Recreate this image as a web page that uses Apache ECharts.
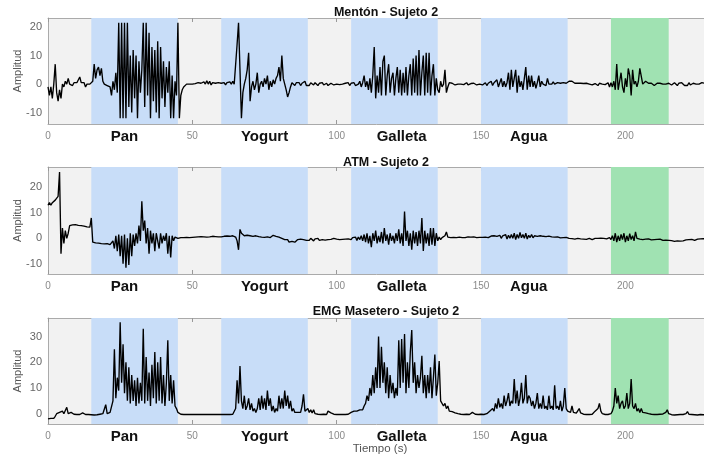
<!DOCTYPE html>
<html><head><meta charset="utf-8">
<script src="https://cdn.jsdelivr.net/npm/echarts@6/dist/echarts.min.js"></script>
<style>html,body{margin:0;padding:0;background:#fff}#c{width:704px;height:456px}</style>
</head><body><div id="c"></div>
<script>
// sampling step of the signals (s)
const stepSeconds = 0.5;

const menton = [
-1,-4,-1,-5,0,7,-3,-6,-2,-5,0,-1,1,0,2,0,0.5,-0.5,0.5,0,
0.5,1,2.5,0.5,0,0.5,-1,0,0.3,0,0.5,1,7,2,5,6,3,5.5,1,0,
0.5,-0.5,0,-1,-4,1,-2,4,-3,21.5,-12,21.5,-12,21.5,-12,21.5,-8,10,-10,12,
-5,10,-12,8,-3,5,21.5,-8,21.5,-4,18,-12,13,-6,12,-10,15,-12,13,-5,
8,-8,6,-3,8,-12,3,-12,1,-4,21.5,-12,-4,-2,-1,-0.5,0,-0.3,0,0.3,
0,-0.3,0.2,0,0.5,-0.2,0.3,0,0.8,0,1.2,0,1,-0.3,0.5,0,0.3,-0.2,0.5,0,
0.3,0,0.5,-0.3,0.5,0,0.8,0,1,0,0,14,21.5,5,-12,-3,0,2,5,11,
-6,-1,1,-2,0,4,-3,0,1,-1,2,0,3,-2,1,-1,1.5,0,2,3,
6,1,10,2,0,-2,-4.5,-3,-1,0.5,1,-0.5,0.5,0,0.5,-0.5,0.3,0,1,-0.5,
0,-0.5,0.5,0,-0.3,0.5,0,-0.5,0.3,0,0.5,-0.3,0,0.3,-0.5,0,0.3,0,-0.3,0.2,
0,0.3,-0.2,0.5,0,-0.3,0.3,0,0.5,-0.5,0.3,0,0.5,-0.5,0.2,0,1,-1,0.5,3,
-1,1,-2,2,-3,3,13,-5,3,-3,6,-4,8,10,-4,3,7,-3,2,4,
-4,2,6,-3,5,-4,4,-3,6,-4,3,7,-4,9,-3,10,-4,12,-4,4,
10,-4,11,-3,11,-4,3,7,-4,2,-2,-3,1,-1,0,5,-3,-1,0.5,0,
0.3,0,-0.3,0.2,0,-0.5,0,0.3,-0.2,0,0.5,-0.3,0,0.2,-0.2,0.3,0,-0.3,0.2,0,
0.5,-0.3,0,0.5,-0.5,0.3,0,1,-0.5,0.5,0,1.5,-1,0.5,2,-1,1,-1,0.5,4,
-2,5,-1,2,5,-3,3,-1,1,-2,2,6,-2,3,-1,3,-1,1,-1.5,0.5,
3,-1,1,0,0.5,-0.5,2,0,0.5,0,0.8,0,0.3,0.5,0,0.3,0,0.5,0,0.3,
0.8,1,0.8,1,0.5,0.3,0.5,0.3,0.2,0.3,0,0.2,0,0.3,-0.2,0,0.3,-0.3,0,0.2,
0,-0.5,0.3,-0.3,0,0.2,-0.2,0,0.5,-1,0.5,-1,1,-2,7,-2,1,4,-1,-3,
2,-1,5.5,3,-4,5,0,1,-1,1,5.5,5,0,0.5,1,0.5,0.3,0.5,0.3,0,
-0.5,0,0.3,0.5,0.3,-0.3,0,-0.5,0,0.5,0.3,0,-0.3,0,0.5,0,-0.5,0.3,0,0.5,
0,-0.5,-1,-0.5,0.5,-0.3,0,0.3,-0.3,0,0.5,0,-0.3,0.5,0,0.3,-0.2,0,0.3,0,
0];

const atm = [
13,14,13,14,14.5,15,15.5,16.5,26,-6,4,-2,3,0,2,5,5.5,5.3,5.2,5.4,
5.3,5.1,5.2,5,4.9,4.8,4.7,4.5,4.5,4.4,8,-1.5,-2,-1.8,-2,-1.9,-2,-2.1,-2,-2.2,
-2,-2.1,-1.5,-2.5,-3,-1,-4,1,-5,1.5,-7,1,-10,1.5,-11.5,0,-10.5,2,-7,1.5,
-3,2,-2,5,-1,14.5,3,7,-2,4,-6,3,-2,2,-5,2,-1,-4,2,-2,
1,-1,2,-6,1,-7.5,1,-1,0.5,1,0,0.5,0.3,0.5,0.3,0.5,0.4,0.5,0.3,0.5,
0.4,0.6,0.5,0.4,0.6,0.5,0.7,0.5,0.6,0.8,0.5,0.7,0.6,0.5,0.8,0.6,0.7,0.5,0.6,0.8,
0.6,0.7,0.8,0.6,0.9,0.7,0.8,0.6,1,0.7,0.5,-1,-4.5,3.5,2,1.5,1,0.8,1.2,0.5,
1,0.5,0.8,0.4,1,0.5,0.7,1,0.5,0.8,0.4,1,0.6,0.8,0.3,0.7,1.2,0.5,0.8,1.5,
0.5,1,0,0.5,-0.5,-1,-0.5,-1.5,-0.8,-1.2,-0.5,-1.5,-1,-0.5,-1.2,-0.3,-1,-0.5,-0.2,-0.8,
-0.3,-0.8,0,-0.5,-1,-0.2,-0.6,0,-0.8,-0.3,-0.5,0,-0.7,-0.2,-0.5,0.2,-0.4,-0.8,0,-0.5,
-0.3,0,-0.5,0.2,-0.4,0,-0.3,0.3,-0.2,0.5,-0.5,0.3,-0.3,0.5,-0.8,0.5,-0.5,1,-1,1.5,
-1.5,2,-2,1,-3.5,2,-1,3,-2,1,-1.5,2.5,-2,4,-1,1.5,-2.5,2,-1,1,
-2,2,-1,3.5,-2,2,-3,10.5,-1,3,-3,2,-4.5,3,-2,2.5,-3,3,-2,8,
-5,3,-2,2,-3,4,-2.5,4,-3,2,-1,0.5,-0.5,0.3,0,1,2.5,0.5,0,0.3,
0.2,0.4,0.1,0.3,0.2,0.5,0.2,0.3,0.5,0.3,0.4,0.6,0.3,0.5,0.4,0.6,0.5,0.3,0.6,0.4,
0.6,0.4,0.7,0.5,0.8,0.3,0.6,0.9,0.4,1,0.3,0.8,0.5,1.2,0,1,0.3,1.5,-0.3,1.2,
0,1.5,0,2,-0.5,1.5,0,2.3,0.2,1.5,0,2,-0.3,1.2,0.3,1.5,0.2,1,0.5,0.8,
0.3,1,0.5,0.8,0.3,0.7,0.5,0.9,0.4,0.6,0.3,0.5,0.2,0.6,0.4,0.2,0.5,0.3,0.1,0.4,
0.3,0,0.2,-0.1,0,-0.3,-0.2,0,-0.4,-0.2,-0.5,-0.3,-0.1,-0.4,-0.2,0,-0.3,-0.5,-0.2,0,
-0.3,0,-0.2,0.1,-0.3,0,0.2,-0.2,0,0.3,-0.5,1,-1,2,-1.5,1,-1,1.5,-0.5,2,
-1.5,1,-1,1.8,-0.5,1,-1,2.5,0,0.5,-0.3,0.3,-0.5,0,-0.3,-0.5,-0.2,-0.4,-0.6,-0.3,
-0.5,-0.2,-0.4,-0.6,-0.3,-0.5,-0.8,-0.5,-0.7,-1,-0.8,-1.1,-0.9,-1,-1.2,-0.9,-1,-0.8,-1.1,-0.9,
-1,-0.8,-0.6,-0.9,-0.5,-0.7,-0.4,-0.6,-0.8,-0.5,-0.3,-0.5,-0.2,-0.4,-0.1,0,-0.3,-0.1,0.1,-0.2,
0];

const emg = [
-2,-2,-1.8,-2,-1.8,-1,0,-0.3,0.5,0,1,0,0.5,2.5,0,-0.2,0.5,0,-0.2,0,
-0.3,0.2,-0.3,-0.2,0.3,-0.3,-0.3,-0.4,-0.3,-0.5,-0.4,-0.3,-0.5,-0.3,-0.4,0,-0.2,0.2,0,0.5,
3.5,0,0.3,0.5,1,5,25,6,14,9,35.5,12,27,8,20,5,18,4,15,5,
13,3,14,4,12,5,33,4,22,5,16,3,19,6,24,4,20,5,22,4,
15,3,12,28.5,5,15,4,13,3,2,0.5,0,-0.2,0,-0.3,-0.2,-0.3,-0.2,-0.3,-0.2,
-0.3,-0.2,-0.3,0,-0.3,-0.2,-0.3,-0.1,-0.3,-0.2,-0.3,0.2,-0.3,-0.2,-0.3,-0.1,-0.3,-0.2,-0.3,-0.1,
-0.3,-0.2,-0.3,-0.1,-0.3,-0.2,-0.3,-0.1,-0.2,0,2,13,4,18.5,5,2,7,1.5,3,6,
1.5,4,1,2,0.5,2,6,1.5,7,2,6,1.5,9,3,6,1,3,0.5,2,1,
7,2,6,2,9,3,7,2,5,1,2,0.5,0,0.5,0,0.5,3,7.5,1,0.5,
2,0.5,1.5,0.3,1.5,0,0.3,-0.2,0,-0.3,0,-0.2,0.2,-0.3,1,1.5,0.3,1,-0.2,0,
-0.3,-0.1,-0.3,-0.2,-0.3,-0.1,-0.3,0,-0.2,0,0.5,0.2,1,0.5,1,0.5,1.5,2,1.5,3,
4,7,5,10,7,15,8,18,10,30,10,26,12,20,8,18,6,15,8,12,
6,10,7,28.5,10,29,12,31,8,20,10,24,32.5,12,20,8,15,10,14,22.5,
8,15,6,15,8,18,6,14,23,7,12,20.5,5,5,3,4,2,3,1,1.5,
0.8,1,0.3,0.5,0,0.3,-0.2,0.1,-0.3,0,-0.2,0.2,-0.3,0,0.5,0,-0.2,0.1,-0.3,0,
-0.2,0,-0.3,0.2,0,0.5,1,0.5,2,1,4,2,6,2.5,4,2,7,3,5,8,
3,5,4,13.5,4,9,3,6,12,4,6,15,4,7,6,3,5,2,4,8,
2,4,2,7,2,3,1.5,7,2,3,1.5,11,2,3,1.5,5,1,3,10,2,
1,1.5,0.5,3,0.5,1,0.2,0.5,2,0.3,0,-0.2,0.3,-0.3,-0.1,-0.3,0,-0.2,0.5,1,
1.5,2,4,1,0,-0.2,-0.3,-0.2,-0.3,-0.1,0,1,3,10,4,7,2,4,5,2,
3,8,2,4,13.5,3,2,4,1,2,0.5,2,0.5,1,0.3,0.5,0,0.3,-0.2,0,
-0.3,-0.1,-0.3,0,-0.2,0.2,-0.1,0.3,0.5,1.5,0,-0.3,-0.4,-0.3,-0.5,-0.3,-0.4,-0.5,-0.3,-0.4,
-0.3,-0.2,0,0.8,-0.2,-0.4,-0.3,-0.5,-0.4,-0.3,-0.5,-0.4,-0.3,-0.5,-0.4,-0.3,-0.5,-0.4,-0.3,-0.4,
-0.4];

const panelTitles = ['Mentón - Sujeto 2', 'ATM - Sujeto 2', 'EMG Masetero - Sujeto 2'];
const bandStart = [15, 60, 105, 150, 195];
const bandEnd = [45, 90, 135, 180, 215];
const bandKind = ['food', 'food', 'food', 'food', 'other'];
const foodLabels = ['Pan', 'Yogurt', 'Galleta', 'Agua'];
const foodLabelTimes = [26.5, 75, 122.5, 166.5];
const xTickLabels = [0, 50, 100, 150, 200];
const yTickLabels = [[-10, 0, 10, 20], [-10, 0, 10, 20], [0, 10, 20, 30]];
const yAxisName = 'Amplitud';
const xAxisName = 'Tiempo (s)';

const signals = [menton, atm, emg];
const gridBoxes = [{top: 18, height: 106}, {top: 167, height: 107}, {top: 318, height: 106}];
const yRanges = [[-14, 23.2], [-14, 28], [-4, 37.2]];
const titleTops = [1, 151, 300];
const bandColor = {food: '#c8ddf8', other: '#a0e2b2'};
const FONT = 'Arial, "Liberation Sans", Helvetica, sans-serif';

const chart = echarts.init(document.getElementById('c'), null, {renderer: 'canvas'});

const grid = [], xAxis = [], yAxis = [], series = [], title = [];
const bands = bandStart.map((s, k) => [
  {xAxis: s, itemStyle: {color: bandColor[bandKind[k]]}},
  {xAxis: bandEnd[k]}
]);

for (let i = 0; i < 3; i++) {
  grid.push({left: 48, width: 664, top: gridBoxes[i].top, height: gridBoxes[i].height,
    show: true, backgroundColor: '#f2f2f2', borderWidth: 0, containLabel: false,
    outerBoundsMode: 'none'});
  title.push({text: panelTitles[i], left: 381, top: titleTops[i], textAlign: 'center',
    textStyle: {fontSize: 12.5, fontWeight: 'bold', color: '#111', fontFamily: FONT}});
  xAxis.push({
    gridIndex: i, type: 'value', min: 0, max: 230, interval: 50, position: 'bottom',
    axisLine: {show: true, onZero: false, lineStyle: {color: '#aaa', width: 1}},
    axisTick: {show: true, inside: true, length: 4, lineStyle: {color: '#999'}},
    axisLabel: {color: '#8a8a8a', fontSize: 10, margin: 7, fontFamily: FONT,
      formatter: v => xTickLabels.includes(v) ? String(v) : ''},
    splitLine: {show: false},
    name: i === 2 ? xAxisName : '', nameLocation: 'middle', nameGap: 19, nameMoveOverlap: false,
    nameTextStyle: {color: '#555', fontSize: 11.5, fontFamily: FONT}
  });
  xAxis.push({
    gridIndex: i, type: 'value', min: 0, max: 230, interval: 50, position: 'top',
    axisLine: {show: true, onZero: false, lineStyle: {color: '#aaa', width: 1}},
    axisTick: {show: true, inside: true, length: 4, lineStyle: {color: '#999'}},
    axisLabel: {show: false}, splitLine: {show: false}
  });
  yAxis.push({
    gridIndex: i, type: 'value', min: yRanges[i][0], max: yRanges[i][1], interval: 2,
    axisLine: {show: true, onZero: false, lineStyle: {color: '#aaa', width: 1}},
    axisTick: {show: false},
    axisLabel: {color: '#666', fontSize: 11, margin: 6, fontFamily: FONT,
      formatter: v => yTickLabels[i].includes(v) ? String(v) : ''},
    splitLine: {show: false},
    name: yAxisName, nameLocation: 'middle', nameGap: 25, nameMoveOverlap: false,
    nameTextStyle: {color: '#555', fontSize: 11, fontFamily: FONT}
  });
  series.push({
    type: 'line', xAxisIndex: 2 * i, yAxisIndex: i,
    data: signals[i].map((v, k) => [k * stepSeconds, v]),
    symbol: 'none', showSymbol: false, sampling: null, clip: true, silent: true,
    lineStyle: {color: '#000', width: 1.35},
    markArea: {silent: true, data: bands}
  });
}

chart.setOption({animation: false, backgroundColor: '#fff', title, grid, xAxis, yAxis, series});

const graphic = [];
for (let i = 0; i < 3; i++) {
  foodLabels.forEach((lab, k) => {
    const p = chart.convertToPixel({seriesIndex: i}, [foodLabelTimes[k], yRanges[i][0]]);
    graphic.push({type: 'text', x: p[0], y: p[1] + 13, silent: true,
      style: {text: lab, font: 'bold 15px ' + FONT, fill: '#111', align: 'center', verticalAlign: 'middle'}});
  });
}
chart.setOption({graphic});
</script></body></html>
